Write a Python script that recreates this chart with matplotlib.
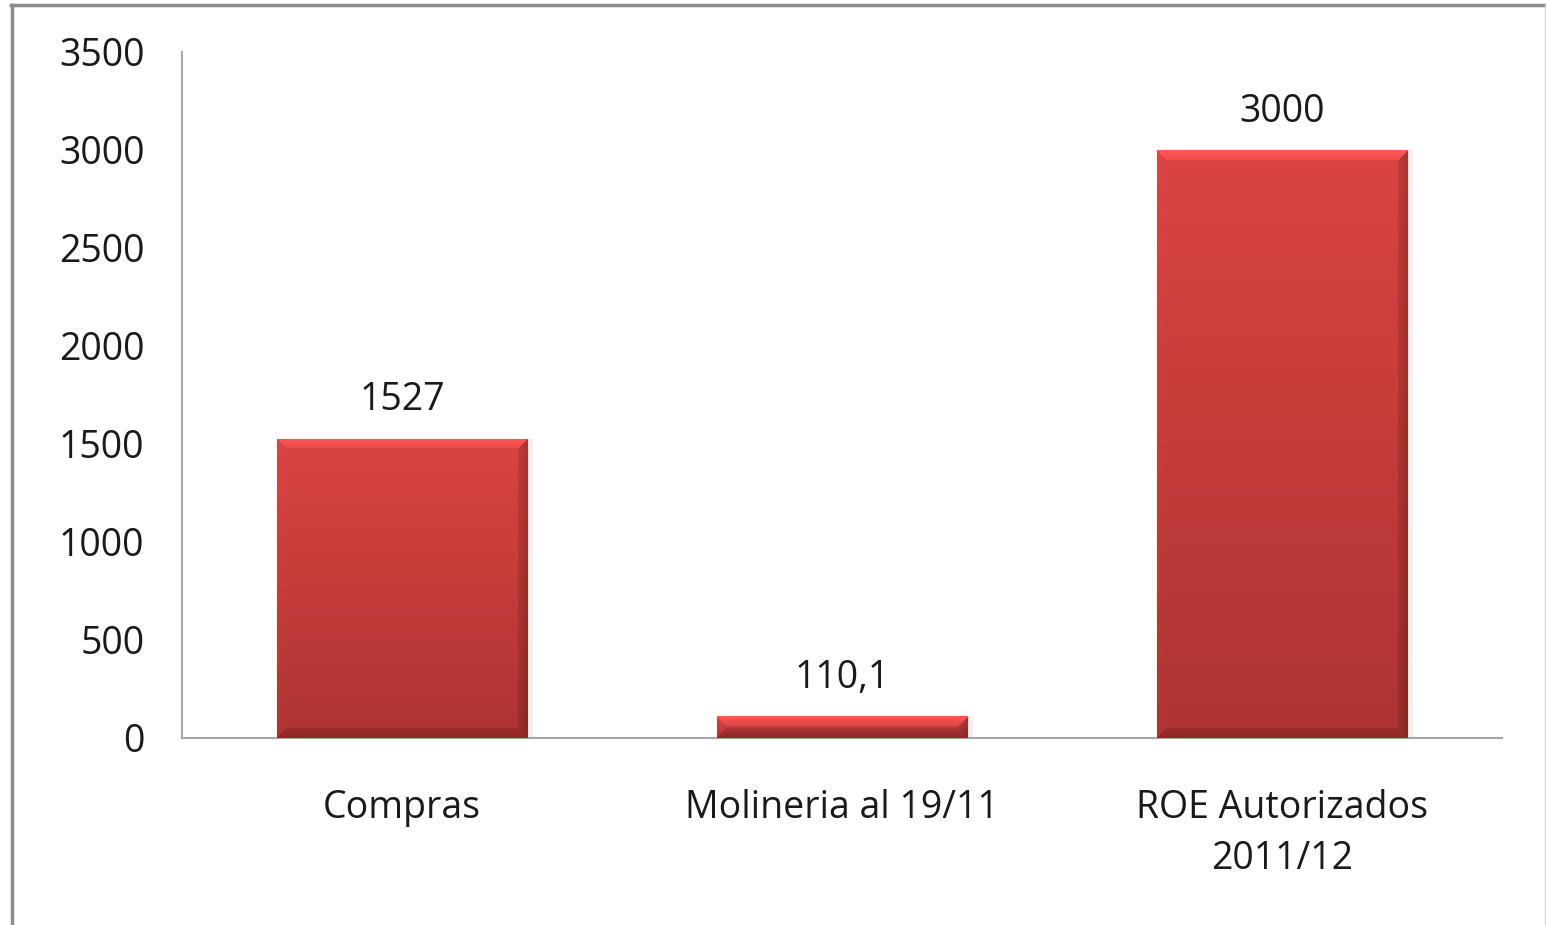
import numpy as np
import matplotlib.pyplot as plt
from matplotlib.lines import Line2D

categories = ['Compras', 'Molineria al 19/11', 'ROE Autorizados\n2011/12']
values = [1527, 110.1, 3000]
value_labels = ['1527', '110,1', '3000']
yticks = [0, 500, 1000, 1500, 2000, 2500, 3000, 3500]

plt.rcParams['font.family'] = ['Open Sans', 'DejaVu Sans']

W, H = 1546, 925
fig = plt.figure(figsize=(W / 100, H / 100), dpi=100)
ax = fig.add_axes([182 / W, 1 - 738 / H, (1502 - 182) / W, (738 - 52) / H])

x = np.arange(len(categories))
bars = ax.bar(x, values, width=0.57, color='#C43B38', edgecolor='#8E2826',
              linewidth=0.8, zorder=2)
ax.set_xlim(-0.5, 2.5)
ax.set_ylim(0, 3500)
ax.set_yticks(yticks)
ax.set_yticklabels([str(v) for v in yticks])
ax.set_xticks(x)
ax.set_xticklabels(categories, linespacing=1.42)
ax.tick_params(axis='both', length=0, labelsize=27, colors='#1a1a1a')
ax.tick_params(axis='y', pad=27)
ax.tick_params(axis='x', pad=37)
for s in ['top', 'right']:
    ax.spines[s].set_visible(False)
for s in ['left', 'bottom']:
    ax.spines[s].set_color('#A6A6A6')
    ax.spines[s].set_linewidth(1.5)

ax.bar_label(bars, labels=value_labels, padding=14, fontsize=27, color='#1a1a1a')


def bevel_image(wpx, hpx):
    wpx, hpx = max(int(wpx), 2), max(int(hpx), 2)
    i = np.arange(hpx)[:, None] * np.ones((1, wpx))
    j = np.ones((hpx, 1)) * np.arange(wpx)[None, :]
    t = i / max(hpx - 1, 1)
    top_c = np.array([218, 68, 65]) / 255
    bot_c = np.array([172, 52, 50]) / 255
    img = top_c[None, None, :] * (1 - t[..., None]) + bot_c[None, None, :] * t[..., None]
    b = min(10, hpx / 2.2)
    dist = np.stack([i, hpx - 1 - i, j, wpx - 1 - j])
    side = np.argmin(dist, axis=0)
    dmin = np.min(dist, axis=0)
    inb = dmin < b
    shade = np.array([[1.18, 1.28, 1.28], [0.82, 0.78, 0.78],
                      [1.02, 1.0, 1.0], [0.80, 0.76, 0.76]])
    for k in range(4):
        m = inb & (side == k)
        fade = 1 - dmin / b * 0.5
        factor = 1 + (shade[k][None, :] - 1) * fade[m][:, None]
        img[m] = img[m] * factor
    return np.clip(img, 0, 1)


for bar in bars:
    x0, y0 = bar.get_x(), bar.get_y()
    x1, y1 = x0 + bar.get_width(), y0 + bar.get_height()
    p0 = ax.transData.transform((x0, y0))
    p1 = ax.transData.transform((x1, y1))
    img = bevel_image(p1[0] - p0[0], p1[1] - p0[1])
    im = ax.imshow(img, extent=(x0, x1, y0, y1), origin='upper',
                   aspect='auto', zorder=3, interpolation='bilinear')
    im.set_clip_path(bar)
    # soft shadow on the right
    ax.bar(x1 + 0.006, bar.get_height(), width=0.012, bottom=y0,
           color='#000000', alpha=0.06, zorder=1, align='center')
ax.set_xlim(-0.5, 2.5)
ax.set_ylim(0, 3500)

# outer frame
fig.add_artist(Line2D([12 / W, 12 / W], [0, 1 - 5 / H], transform=fig.transFigure,
                      color='#8C8C8C', linewidth=2.5))
fig.add_artist(Line2D([11 / W, 1], [1 - 5 / H, 1 - 5 / H], transform=fig.transFigure,
                      color='#8C8C8C', linewidth=2.5))
fig.add_artist(Line2D([1545 / W, 1545 / W], [0, 1 - 5 / H], transform=fig.transFigure,
                      color='#D0D0D0', linewidth=1))

fig.savefig('out.png', dpi=100)
